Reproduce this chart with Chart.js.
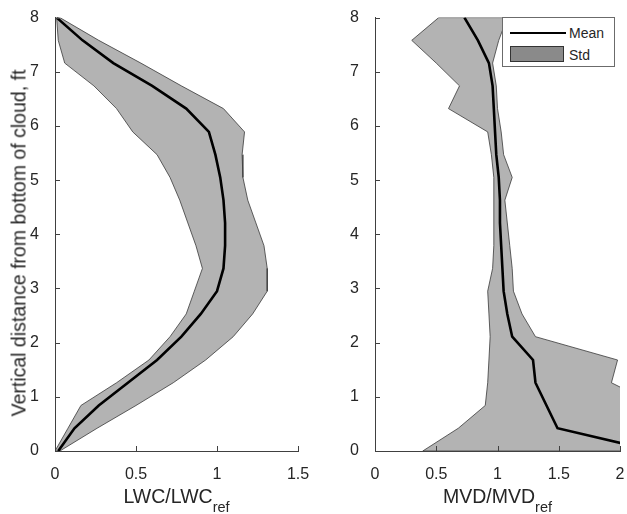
<!DOCTYPE html>
<html>
<head>
<meta charset="utf-8">
<script src="https://cdn.jsdelivr.net/npm/chart.js@4"></script>
<style>
  body { margin: 0; background: #fff; }
  #wrap { position: relative; width: 627px; height: 514px; overflow: hidden; font-family: "Liberation Sans", Arial, sans-serif; color: #262626; }
  .pane { position: absolute; top: 0; }
  .xtitle { position: absolute; top: 487px; font-size: 19.5px; line-height: 19px; text-align: center; white-space: nowrap; }
  .xtitle span { font-size: 14.5px; vertical-align: -9px; }
  #ytitle { position: absolute; left: 19px; top: 243px; font-size: 19.5px; line-height: 19px; white-space: nowrap;
            transform: translate(-50%, -50%) rotate(-90deg); }
  #legend { position: absolute; left: 502px; top: 17px; width: 111px; height: 48px; border: 1px solid #6b6b6b; background: #fff; font-size: 14px; }
  #legend .row { position: absolute; left: 66px; }
</style>
</head>
<body>
<div id="wrap">
  <div class="pane" style="left:0"><canvas id="lwc" width="320" height="514"></canvas></div>
  <div class="pane" style="left:320px"><canvas id="mvd" width="307" height="514"></canvas></div>
  <div id="ytitle">Vertical distance from bottom of cloud, ft</div>
  <div class="xtitle" style="left:55px;width:243px">LWC/LWC<span>ref</span></div>
  <div class="xtitle" style="left:375px;width:245px">MVD/MVD<span>ref</span></div>
  <div id="legend">
    <div style="position:absolute;left:7px;top:14px;width:56px;height:0;border-top:2.5px solid #000"></div>
    <div class="row" style="top:7px">Mean</div>
    <div style="position:absolute;left:7px;top:28px;width:52px;height:14px;background:#8a8a8a;border:1px solid #333"></div>
    <div class="row" style="top:29px">Std</div>
  </div>
</div>
<script>
// heights above cloud bottom (ft) where the profiles were sampled
const heights = [0, 0.42, 0.84, 1.26, 1.68, 2.11, 2.53, 2.95, 3.37, 3.79, 4.21, 4.63, 5.05, 5.47, 5.89, 6.32, 6.74, 7.16, 7.58, 8.0];

// LWC/LWCref
const lwcMean = [0.02, 0.12, 0.27, 0.45, 0.63, 0.78, 0.90, 1.00, 1.04, 1.05, 1.05, 1.04, 1.02, 0.99, 0.95, 0.81, 0.60, 0.36, 0.17, 0.01];
const lwcLow  = [0.00, 0.08, 0.16, 0.38, 0.58, 0.71, 0.81, 0.86, 0.91, 0.87, 0.82, 0.77, 0.71, 0.63, 0.48, 0.38, 0.24, 0.06, 0.02, 0.01];
const lwcHigh = [0.03, 0.26, 0.50, 0.73, 0.93, 1.10, 1.22, 1.31, 1.31, 1.29, 1.24, 1.19, 1.16, 1.155, 1.17, 1.04, 0.78, 0.53, 0.27, 0.03];

// MVD/MVDref
const mvdMean = [2.28, 1.49, 1.40, 1.31, 1.29, 1.12, 1.08, 1.05, 1.04, 1.03, 1.02, 1.02, 1.01, 0.99, 0.98, 0.97, 0.96, 0.93, 0.84, 0.73];
const mvdLow  = [0.39, 0.68, 0.90, 0.92, 0.93, 0.94, 0.93, 0.92, 0.96, 0.97, 0.97, 0.97, 0.97, 0.95, 0.92, 0.60, 0.69, 0.50, 0.30, 0.52];
const mvdHigh = [2.90, 2.60, 2.30, 1.93, 1.98, 1.31, 1.20, 1.13, 1.12, 1.10, 1.08, 1.06, 1.12, 1.05, 1.03, 1.00, 0.99, 0.96, 1.01, 1.08];

const yTicks = [0, 1, 2, 3, 4, 5, 6, 7, 8];
const lwcTicks = [0, 0.5, 1, 1.5];
const mvdTicks = [0, 0.5, 1, 1.5, 2];

const axisColor = '#404040';
const textColor = '#262626';
const fillColor = '#b3b3b3';
const font = { family: '"Liberation Sans", Arial, sans-serif', size: 16 };

const toPts = (xs) => xs.map((v, i) => ({ x: v, y: heights[i] }));

// closed outline: low side going up, high side coming back down
function band(low, high) {
  const pts = toPts(low).concat(toPts(high).reverse());
  pts.push(pts[0]);
  return pts;
}

// MATLAB style ticks pointing into the plot
const inwardTicks = {
  id: 'inwardTicks',
  afterDraw(chart) {
    const { ctx, chartArea, scales } = chart;
    ctx.save();
    ctx.strokeStyle = axisColor;
    ctx.lineWidth = 1;
    scales.x.ticks.forEach(t => {
      const px = Math.round(scales.x.getPixelForValue(t.value)) + 0.5;
      ctx.beginPath();
      ctx.moveTo(px, chartArea.bottom);
      ctx.lineTo(px, chartArea.bottom - 5);
      ctx.stroke();
    });
    scales.y.ticks.forEach(t => {
      const py = Math.round(scales.y.getPixelForValue(t.value)) + 0.5;
      ctx.beginPath();
      ctx.moveTo(chartArea.left, py);
      ctx.lineTo(chartArea.left + 5, py);
      ctx.stroke();
    });
    ctx.restore();
  }
};

function makeChart(id, mean, low, high, xMax, xTicks, rightPad) {
  return new Chart(document.getElementById(id), {
    type: 'scatter',
    data: {
      datasets: [
        {
          label: 'Mean',
          data: toPts(mean),
          showLine: true,
          borderColor: '#000',
          borderWidth: 2.6,
          pointRadius: 0,
          fill: false,
          order: 0
        },
        {
          label: 'Std',
          data: band(low, high),
          showLine: true,
          borderColor: '#3a3a3a',
          borderWidth: 0.8,
          backgroundColor: fillColor,
          pointRadius: 0,
          fill: 'shape',
          order: 1
        }
      ]
    },
    options: {
      responsive: false,
      animation: false,
      layout: { padding: { top: 13, right: rightPad, left: 0, bottom: 0 } },
      plugins: { legend: { display: false }, tooltip: { enabled: false } },
      scales: {
        x: {
          type: 'linear',
          min: 0,
          max: xMax,
          afterBuildTicks: (s) => { s.ticks = xTicks.map(v => ({ value: v })); },
          afterFit: (s) => { s.height = 63; s.paddingRight = 0; s.paddingLeft = 0; },
          grid: { display: false },
          border: { display: true, color: axisColor, width: 1 },
          ticks: { color: textColor, font: font, padding: 6, maxRotation: 0, callback: (v) => String(v) }
        },
        y: {
          type: 'linear',
          min: 0,
          max: 8,
          afterBuildTicks: (s) => { s.ticks = yTicks.map(v => ({ value: v })); },
          afterFit: (s) => { s.width = 55; },
          grid: { display: false },
          border: { display: true, color: axisColor, width: 1 },
          ticks: { color: textColor, font: font, padding: 8, callback: (v) => String(v) }
        }
      }
    },
    plugins: [inwardTicks]
  });
}

makeChart('lwc', lwcMean, lwcLow, lwcHigh, 1.5, lwcTicks, 22);
makeChart('mvd', mvdMean, mvdLow, mvdHigh, 2, mvdTicks, 7);
</script>
</body>
</html>
